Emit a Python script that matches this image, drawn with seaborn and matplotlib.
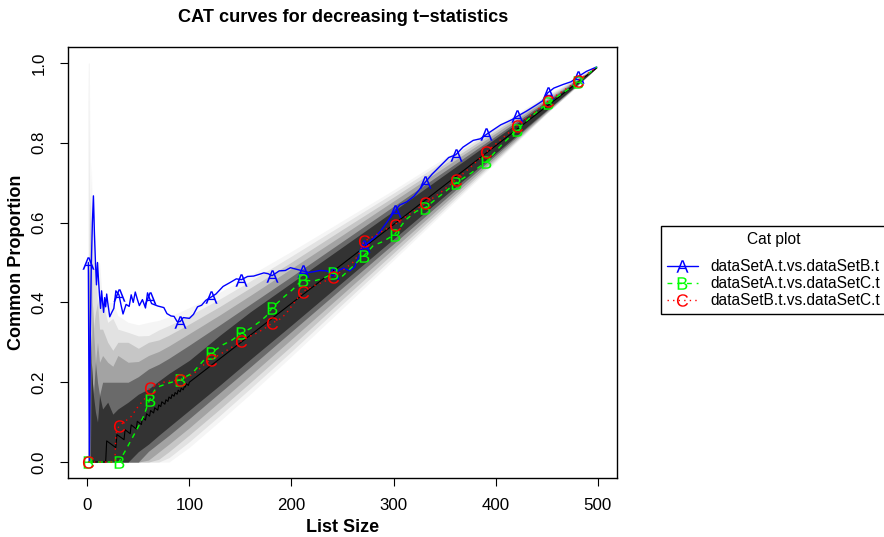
import numpy as np
import matplotlib
matplotlib.use("Agg")
import matplotlib.pyplot as plt
import seaborn as sns
from matplotlib.lines import Line2D

# ---------------- data ----------------
marker_x = [1, 31, 61, 91, 121, 151, 181, 211, 241, 271, 301, 331, 361, 391, 421, 451, 481]

blue_x = [1, 2, 3, 4, 5, 6, 7, 8, 9, 10, 11, 12, 13, 14, 15, 16, 17, 18, 19, 20,
          22, 24, 26, 28, 31, 33, 35, 38, 41, 43, 45, 47, 49, 51, 54, 57, 59, 61,
          63, 66, 69, 72, 75, 78, 82, 85, 88, 91, 94, 97, 100, 104, 108, 112, 116,
          121, 126, 133, 140, 146, 151, 157, 163, 168, 173, 177, 181, 188, 194, 199,
          205, 211, 217, 222, 228, 234, 241, 246, 251, 257, 262, 266, 271, 276, 281,
          287, 293, 301, 306, 313, 320, 327, 331, 338, 347, 354, 361, 368, 378, 385,
          391, 398, 405, 411, 416, 421, 430, 440, 446, 451, 457, 466, 474, 481, 489, 499]
blue_y = [0.5, 0.0, 0.333, 0.5, 0.6, 0.667, 0.571, 0.5, 0.444, 0.5,
          0.455, 0.417, 0.385, 0.429, 0.4, 0.375, 0.412, 0.389, 0.421, 0.4,
          0.364, 0.375, 0.385, 0.429, 0.419, 0.394, 0.371, 0.395, 0.39, 0.419,
          0.4, 0.426, 0.408, 0.392, 0.407, 0.386, 0.424, 0.41, 0.397, 0.394,
          0.391, 0.389, 0.387, 0.372, 0.366, 0.365, 0.352, 0.352, 0.362, 0.361,
          0.36, 0.37, 0.389, 0.393, 0.405, 0.413, 0.421, 0.44, 0.45, 0.459,
          0.457, 0.465, 0.466, 0.47, 0.474, 0.472, 0.467, 0.479, 0.48, 0.487,
          0.483, 0.479, 0.475, 0.477, 0.48, 0.479, 0.473, 0.48, 0.486, 0.479,
          0.489, 0.515, 0.542, 0.551, 0.562, 0.578, 0.599, 0.628, 0.644, 0.652,
          0.666, 0.688, 0.701, 0.722, 0.745, 0.763, 0.77, 0.789, 0.806, 0.81,
          0.821, 0.833, 0.845, 0.852, 0.858, 0.866, 0.879, 0.895, 0.905, 0.925,
          0.937, 0.946, 0.953, 0.966, 0.979, 0.99]

green_x = [1, 10, 20, 31, 37, 44, 50, 55, 61, 66, 71, 80, 91, 103, 113, 121, 133, 142,
           151, 160, 169, 175, 181, 191, 201, 211, 221, 231, 241, 250, 260, 266, 271,
           280, 290, 301, 312, 322, 331, 346, 361, 376, 391, 406, 421, 436, 451, 466,
           481, 499]
green_y = [0, 0, 0, 0, 0.027, 0.06, 0.089, 0.114, 0.156, 0.18,
           0.19, 0.198, 0.206, 0.223, 0.252, 0.273, 0.294, 0.306, 0.323, 0.335,
           0.352, 0.365, 0.386, 0.41, 0.432, 0.457, 0.453, 0.46, 0.474, 0.466,
           0.49, 0.505, 0.517, 0.542, 0.553, 0.57, 0.607, 0.628, 0.637, 0.668,
           0.699, 0.724, 0.753, 0.795, 0.833, 0.868, 0.90, 0.925, 0.952, 0.99]

red_x = [1, 10, 20, 27, 28, 31, 36, 43, 50, 58, 61, 70, 77, 85, 91, 100, 108, 116,
         121, 130, 140, 151, 160, 166, 175, 181, 190, 195, 205, 211, 220, 230, 241,
         250, 260, 266, 271, 280, 290, 301, 315, 331, 346, 361, 376, 391, 406, 421,
         436, 451, 466, 481, 499]
red_y = [0, 0, 0, 0, 0.071, 0.09, 0.1, 0.114, 0.14, 0.164,
         0.185, 0.195, 0.202, 0.204, 0.206, 0.215, 0.229, 0.248, 0.256, 0.27,
         0.285, 0.304, 0.316, 0.323, 0.337, 0.348, 0.36, 0.373, 0.407, 0.427,
         0.44, 0.45, 0.463, 0.48, 0.5, 0.52, 0.553, 0.565, 0.58, 0.595,
         0.62, 0.648, 0.675, 0.707, 0.74, 0.777, 0.81, 0.843, 0.872, 0.904,
         0.93, 0.956, 0.99]

black_x = [1, 18, 19, 28, 29, 36, 37, 42, 43, 48, 49, 53, 54, 57, 58, 61, 62, 65, 66,
           69, 70, 72, 73, 76, 77, 79, 80, 82, 83, 85, 86, 88, 89, 91, 92, 94, 95, 96,
           97, 99, 100, 499]
black_y = [0, 0, 0.053, 0.036, 0.069, 0.056, 0.081, 0.071, 0.093, 0.083, 0.102,
           0.094, 0.111, 0.105, 0.121, 0.115, 0.129, 0.123, 0.136, 0.130, 0.143,
           0.139, 0.151, 0.145, 0.156, 0.152, 0.163, 0.159, 0.169, 0.165, 0.174,
           0.170, 0.180, 0.176, 0.185, 0.181, 0.189, 0.188, 0.196, 0.192, 0.200, 0.988]

# probability-interval bands
band_x = [1, 2, 3, 4, 5, 6, 8, 10, 12, 15, 20, 25, 30, 40, 50, 60, 70, 80, 100,
          130, 160, 200, 250, 300, 350, 400, 450, 480, 499]
up95 = [0, 0, 0, 0.25, 0.2, 0.167, 0.125, 0.1, 0.167, 0.133, 0.15, 0.12, 0.133, 0.15,
        0.17, 0.183, 0.203, 0.222, 0.255, 0.318, 0.377, 0.449, 0.539, 0.629, 0.72,
        0.811, 0.901, 0.955, 0.99]
up99 = [0, 0.5, 0.333, 0.25, 0.2, 0.167, 0.25, 0.2, 0.167, 0.2, 0.2, 0.2, 0.2, 0.2,
        0.214, 0.233, 0.245, 0.26, 0.293, 0.344, 0.396, 0.465, 0.553, 0.641, 0.729,
        0.817, 0.905, 0.957, 0.99]
up999 = [0, 0.5, 0.333, 0.25, 0.4, 0.333, 0.25, 0.3, 0.25, 0.267, 0.25, 0.24, 0.267,
         0.25, 0.252, 0.267, 0.277, 0.291, 0.322, 0.369, 0.418, 0.485, 0.569, 0.654,
         0.739, 0.824, 0.909, 0.959, 0.991]
up9999 = [0, 0.5, 0.667, 0.5, 0.4, 0.333, 0.375, 0.4, 0.333, 0.333, 0.3, 0.28, 0.3,
          0.3, 0.285, 0.3, 0.306, 0.318, 0.346, 0.39, 0.437, 0.501, 0.583, 0.664,
          0.747, 0.83, 0.913, 0.961, 0.991]
up99999 = [1, 0.5, 0.667, 0.5, 0.6, 0.5, 0.5, 0.4, 0.417, 0.4, 0.35, 0.36, 0.333, 0.325,
           0.316, 0.317, 0.331, 0.342, 0.367, 0.409, 0.454, 0.516, 0.595, 0.674,
           0.755, 0.836, 0.917, 0.963, 0.992]
up999999 = [1, 1, 0.667, 0.75, 0.6, 0.667, 0.5, 0.5, 0.5, 0.4, 0.4, 0.4, 0.367, 0.35,
            0.344, 0.35, 0.355, 0.364, 0.387, 0.426, 0.469, 0.528, 0.605, 0.682,
            0.762, 0.841, 0.92, 0.965, 0.992]
lo95 = [0, 0, 0, 0, 0, 0, 0, 0, 0, 0, 0, 0, 0, 0, 0.026, 0.045, 0.067, 0.088, 0.13,
        0.193, 0.258, 0.343, 0.451, 0.559, 0.667, 0.774, 0.882, 0.946, 0.988]
lo99 = [0, 0, 0, 0, 0, 0, 0, 0, 0, 0, 0, 0, 0, 0, 0, 0.027, 0.047, 0.067, 0.109,
        0.174, 0.239, 0.327, 0.437, 0.547, 0.658, 0.769, 0.88, 0.945, 0.988]
lo999 = [0, 0, 0, 0, 0, 0, 0, 0, 0, 0, 0, 0, 0, 0, 0, 0.005, 0.025, 0.045, 0.086,
         0.152, 0.218, 0.308, 0.421, 0.535, 0.649, 0.763, 0.877, 0.944, 0.988]
lo9999 = [0, 0, 0, 0, 0, 0, 0, 0, 0, 0, 0, 0, 0, 0, 0, 0, 0.007, 0.026, 0.068,
          0.133, 0.2, 0.291, 0.408, 0.524, 0.641, 0.758, 0.875, 0.943, 0.988]
lo99999 = [0, 0, 0, 0, 0, 0, 0, 0, 0, 0, 0, 0, 0, 0, 0, 0, 0, 0.011, 0.051,
           0.117, 0.185, 0.277, 0.396, 0.514, 0.634, 0.754, 0.874, 0.942, 0.988]
lo999999 = [0, 0, 0, 0, 0, 0, 0, 0, 0, 0, 0, 0, 0, 0, 0, 0, 0, 0, 0.037,
            0.103, 0.171, 0.265, 0.385, 0.506, 0.628, 0.75, 0.873, 0.9415, 0.988]

series_labels = ["dataSetA.t.vs.dataSetB.t", "dataSetA.t.vs.dataSetC.t",
                 "dataSetB.t.vs.dataSetC.t"]
x_ticks = [0, 100, 200, 300, 400, 500]
y_ticks = [0.0, 0.2, 0.4, 0.6, 0.8, 1.0]
y_tick_labels = ["0.0", "0.2", "0.4", "0.6", "0.8", "1.0"]

# ---------------- styling ----------------
sns.set_theme(style="ticks")
plt.rcParams["font.family"] = ["Liberation Sans", "DejaVu Sans"]
plt.rcParams["mathtext.fontset"] = "custom"
plt.rcParams["mathtext.sf"] = "Liberation Sans"
plt.rcParams["mathtext.rm"] = "Liberation Sans"
plt.rcParams["text.color"] = "black"
plt.rcParams["axes.labelcolor"] = "black"
plt.rcParams["xtick.color"] = "black"
plt.rcParams["ytick.color"] = "black"

W, H = 884, 537
fig = plt.figure(figsize=(W / 100, H / 100), dpi=100)
fig.patch.set_facecolor("white")
ax = fig.add_axes([68 / W, (H - 478) / H, (617 - 68) / W, (478 - 47) / H])
ax.set_facecolor("white")

bands = [(lo999999, up999999, "#F5F5F5"), (lo99999, up99999, "#E2E2E2"),
         (lo9999, up9999, "#C6C6C6"), (lo999, up999, "#A3A3A3"),
         (lo99, up99, "#6A6A6A"), (lo95, up95, "#333333")]
for lo, up, col in bands:
    ax.fill_between(band_x, lo, up, color=col, linewidth=0, zorder=1)

sns.lineplot(x=black_x, y=black_y, color="black", linewidth=0.8, ax=ax,
             sort=False, estimator=None, zorder=2)

series = [
    (blue_x, blue_y, "#0000FF", "-", "A"),
    (green_x, green_y, "#00FF00", (0, (3.5, 3.5)), "B"),
    (red_x, red_y, "#FF0000", (0, (1, 3)), "C"),
]
handles = []
for i, (xs, ys, col, ls, letter) in enumerate(series):
    sns.lineplot(x=xs, y=ys, color=col, linewidth=1.0, linestyle=ls, ax=ax,
                 sort=False, estimator=None, zorder=3 + i)
    idx = [j for j, v in enumerate(xs) if v in marker_x]
    ax.plot(xs, ys, linestyle="none", marker=r"$\mathsf{%s}$" % letter,
            markevery=idx, markersize=9, color=col, markeredgewidth=0,
            zorder=3 + i)
    handles.append(Line2D([], [], color=col, linewidth=1.0, linestyle=ls,
                          marker=r"$\mathsf{%s}$" % letter, markersize=9,
                          markeredgewidth=0))

ax.set_xlim(-18.9, 518.9)
ax.set_ylim(-0.04, 1.04)
ax.set_xticks(x_ticks)
ax.set_xticklabels([str(v) for v in x_ticks])
ax.set_yticks(y_ticks)
ax.set_yticklabels(y_tick_labels, rotation=90, va="center", ha="center")
ax.tick_params(axis="both", direction="out", length=5.5, width=0.8,
               color="black", labelsize=12.2, labelcolor="black")
ax.tick_params(axis="x", pad=14.5)
ax.tick_params(axis="y", pad=15.5)
for lab in ax.get_xticklabels():
    lab.set_va("center")
for sp in ax.spines.values():
    sp.set_visible(True)
    sp.set_color("black")
    sp.set_linewidth(1.0)
ax.set_xlabel("")
ax.set_ylabel("")

fig.text(343 / W, 1 - 18 / H, "CAT curves for decreasing t\u2212statistics",
         ha="center", va="center", fontsize=13.1, fontweight="bold", color="black")
fig.text(342.5 / W, 1 - 527 / H, "List Size", ha="center", va="center",
         fontsize=13, fontweight="bold", color="black")
fig.text(17 / W, 1 - 262.5 / H, "Common Proportion", ha="center", va="center",
         rotation=90, fontsize=13, fontweight="bold", color="black")

leg = fig.legend(handles, series_labels, title="Cat plot", loc="upper left",
                 bbox_to_anchor=(661 / W, 1 - 226 / H),
                 bbox_transform=fig.transFigure, fontsize=11.2,
                 title_fontsize=11.2, frameon=True, fancybox=False,
                 edgecolor="black", framealpha=1, borderpad=0.4,
                 handlelength=1.95, handletextpad=0.8, labelspacing=0.13,
                 borderaxespad=0)
leg.get_frame().set_linewidth(1.0)
leg._legend_box.sep = 8.5
for t in leg.get_texts():
    t.set_color("black")
leg.get_title().set_color("black")

fig.savefig("out.png", dpi=100, facecolor="white")
